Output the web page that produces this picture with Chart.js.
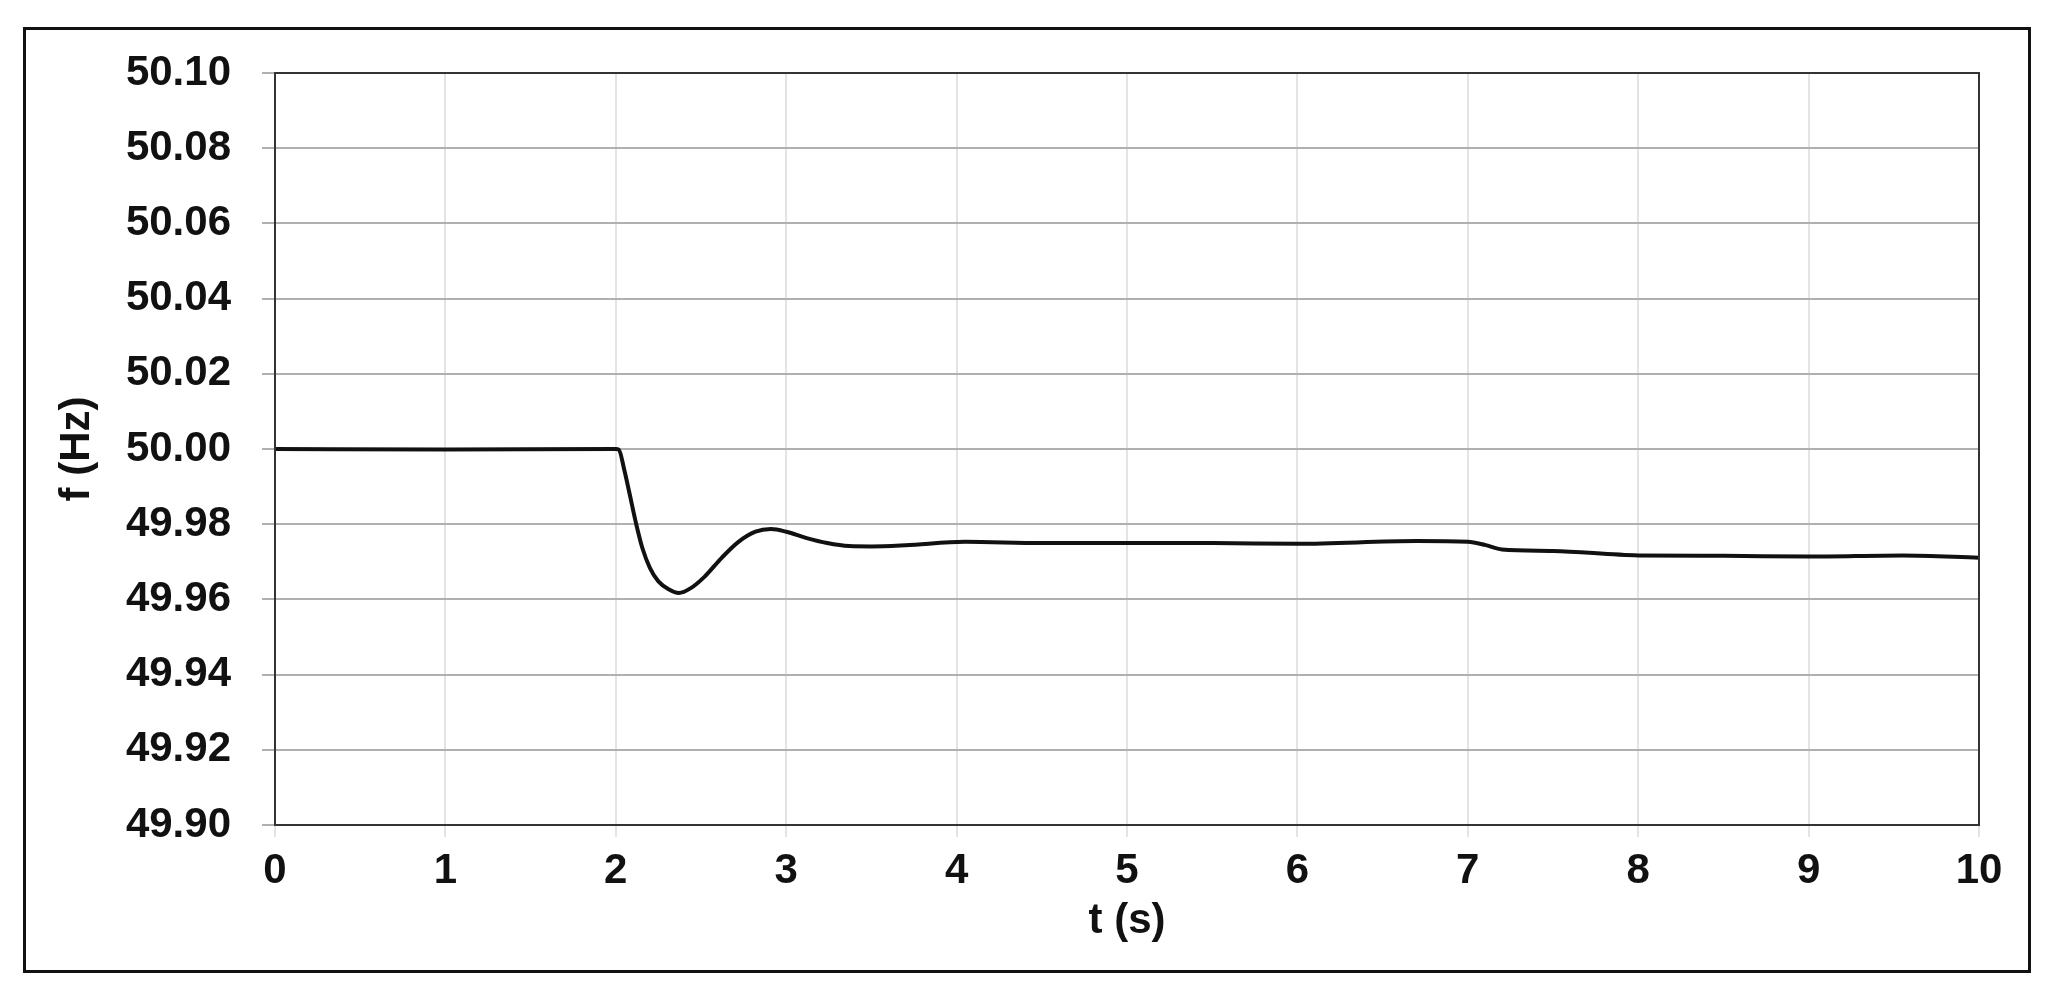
<!DOCTYPE html>
<html lang="en">
<head>
  <meta charset="UTF-8" />
  <title>Frequency response</title>
  <script src="https://cdn.jsdelivr.net/npm/chart.js"></script>
  <style>
    html, body {
      margin: 0;
      padding: 0;
      background: #ffffff;
    }

    .chart-box {
      position: relative;
      width: 2056px;
      height: 1001px;
    }
  </style>
</head>
<body>
  <div class="chart-box">
    <canvas id="freqChart"></canvas>
  </div>

  <script>
    // data
    const timeS = [0, 1, 2, 2.018, 2.05, 2.08, 2.12, 2.155, 2.20, 2.25, 2.31, 2.37, 2.44, 2.52,
      2.62, 2.72, 2.82, 2.91, 3.0, 3.12, 3.24, 3.37, 3.5, 3.7, 4.05, 4.5, 5, 5.5, 6, 6.7, 7,
      7.1, 7.2, 7.5, 8, 8.5, 9, 9.55, 10];
    const freqHz = [50.0, 49.9999, 50.0, 49.9998, 49.9944, 49.9883, 49.98, 49.9738, 49.9684,
      49.9648, 49.9627, 49.9617, 49.963, 49.966, 49.971, 49.9753, 49.978, 49.9787, 49.978,
      49.9763, 49.975, 49.9742, 49.9741, 49.9744, 49.9753, 49.975, 49.975, 49.975, 49.9748,
      49.9755, 49.9753, 49.9745, 49.9733, 49.9729, 49.9717, 49.9716, 49.9714, 49.9717, 49.9711];

    const xTicks = [0, 1, 2, 3, 4, 5, 6, 7, 8, 9, 10];
    const yTicks = [49.90, 49.92, 49.94, 49.96, 49.98, 50.00, 50.02, 50.04, 50.06, 50.08, 50.10];

    const xTitle = "t (s)";
    const yTitle = "f (Hz)";

    const points = timeS.map((t, i) => ({ x: t, y: freqHz[i] }));
    const labelFont = { family: "'Liberation Sans', Arial, sans-serif", size: 42, weight: "bold" };

    // white background, outer frame and the box round the plot area
    const framePlugin = {
      id: "frame",
      beforeDraw(chart) {
        const ctx = chart.ctx;
        ctx.save();
        ctx.fillStyle = "#ffffff";
        ctx.fillRect(0, 0, chart.width, chart.height);
        ctx.restore();
      },
      afterDraw(chart) {
        const ctx = chart.ctx;
        const a = chart.chartArea;
        ctx.save();
        ctx.strokeStyle = "#333333";
        ctx.lineWidth = 2;
        ctx.strokeRect(a.left, a.top, a.right - a.left, a.bottom - a.top);
        ctx.strokeStyle = "#111111";
        ctx.lineWidth = 3;
        ctx.strokeRect(24.5, 28.5, 2005, 943);
        ctx.restore();
      }
    };

    new Chart(document.getElementById("freqChart"), {
      type: "scatter",
      data: {
        datasets: [{
          label: "f",
          data: points,
          showLine: true,
          borderColor: "#111111",
          borderWidth: 4,
          pointRadius: 0,
          cubicInterpolationMode: "monotone",
          fill: false
        }]
      },
      options: {
        responsive: true,
        maintainAspectRatio: false,
        animation: false,
        layout: {
          padding: { left: 0, top: 73, right: 77, bottom: 0 }
        },
        plugins: {
          legend: { display: false },
          tooltip: { enabled: false }
        },
        scales: {
          x: {
            type: "linear",
            min: 0,
            max: 10,
            afterBuildTicks: (scale) => {
              scale.ticks = xTicks.map(v => ({ value: v }));
            },
            afterFit: (scale) => {
              scale.height = 176;
            },
            ticks: {
              color: "#111111",
              font: labelFont,
              padding: 9,
              maxRotation: 0,
              callback: (v) => String(v)
            },
            grid: {
              color: "#e4e4e4",
              lineWidth: 2,
              tickLength: 12
            },
            border: { color: "#333333", width: 2 },
            title: {
              display: true,
              text: xTitle,
              color: "#111111",
              font: labelFont,
              padding: { top: 0, bottom: 54 }
            }
          },
          y: {
            type: "linear",
            min: 49.90,
            max: 50.10,
            afterBuildTicks: (scale) => {
              scale.ticks = yTicks.map(v => ({ value: v }));
            },
            afterFit: (scale) => {
              scale.width = 275;
            },
            ticks: {
              color: "#111111",
              font: labelFont,
              padding: 31,
              callback: (v) => Number(v).toFixed(2)
            },
            grid: {
              color: "#b0b0b0",
              lineWidth: 2,
              tickLength: 13
            },
            border: { color: "#333333", width: 2 },
            title: {
              display: true,
              text: yTitle,
              color: "#111111",
              font: labelFont,
              padding: { top: 52, bottom: 0 }
            }
          }
        }
      },
      plugins: [framePlugin]
    });
  </script>
</body>
</html>
